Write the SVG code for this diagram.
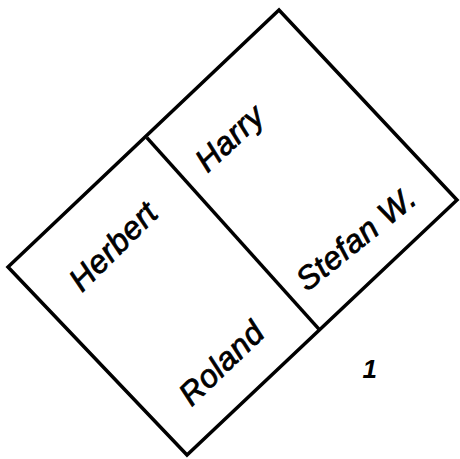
<svg xmlns="http://www.w3.org/2000/svg" width="460" height="459" viewBox="0 0 460 459">
<style>
.l{fill:none;stroke:#000;stroke-width:3.5;stroke-linejoin:miter;stroke-linecap:square}
.t{font-family:"Liberation Sans",Arial,sans-serif;font-style:italic;font-size:32px;letter-spacing:0.5px;fill:#000;stroke:#000;stroke-width:0.8;text-anchor:middle}
</style>
<rect width="460" height="459" fill="#fff"/>
<g id="connectors">
<polygon class="l" points="8,267 279,10 457,200 187,455"/>
<line class="l" x1="148" y1="139" x2="318" y2="328"/>
</g>
<g id="herbert"><text class="t" transform="translate(121,254) rotate(-45)">Herbert</text></g>
<g id="harry"><text class="t" transform="translate(237,146) rotate(-43)">Harry</text></g>
<g id="roland"><text class="t" transform="translate(229,371) rotate(-44)">Roland</text></g>
<g id="stefan"><text class="t" transform="translate(363,247) rotate(-39)">Stefan W.</text></g>
<g id="one"><text class="t" style="font-weight:bold;font-size:26px;stroke-width:0" x="370" y="378">1</text></g>
</svg>
